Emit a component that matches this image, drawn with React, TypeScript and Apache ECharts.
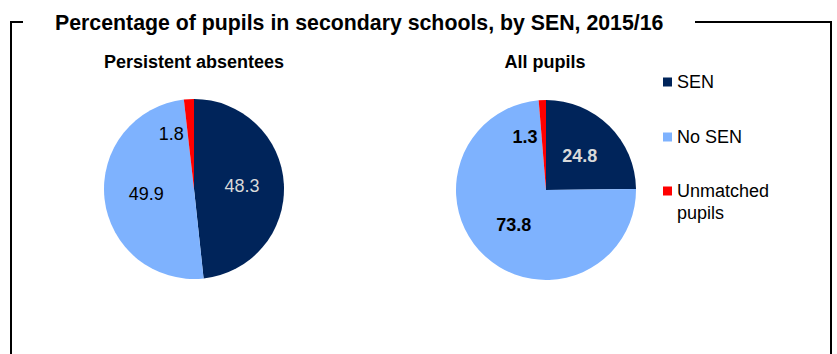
import React, { useEffect, useRef } from "react";
import * as echarts from "echarts";

const categories = ["SEN", "No SEN", "Unmatched pupils"];
const persistentAbsentees = [48.3, 49.9, 1.8];
const allPupils = [24.8, 73.8, 1.3];
const chartTitle = "Percentage of pupils in secondary schools, by SEN, 2015/16";
const pieTitles = ["Persistent absentees", "All pupils"];
const colors = ["#00245a", "#7eb2fe", "#ff0000"];

const FONT = "'Liberation Sans', Arial, sans-serif";

export default function App() {
  const ref = useRef<HTMLDivElement>(null);

  useEffect(() => {
    document.body.style.margin = "0";
    const chart = echarts.init(ref.current!, null, { renderer: "svg" });

    const makeData = (vals: number[], bold: boolean, smallOffset: number[]) =>
      vals.map((v, i) => ({
        name: categories[i],
        value: v,
        itemStyle: { color: colors[i] },
        label: {
          color: i === 0 ? "#d9d9d9" : "#000",
          fontWeight: bold ? "bold" : "normal",
          offset: i === 2 ? smallOffset : [0, 0],
        },
      }));

    const pieBase = {
      type: "pie",
      radius: 90,
      startAngle: 90,
      clockwise: true,
      avoidLabelOverlap: false,
      labelLine: { show: false },
      label: {
        show: true,
        position: "inside",
        fontSize: 18,
        fontFamily: FONT,
        formatter: (p: any) => p.value.toFixed(1),
      },
      emphasis: { disabled: true },
    };

    const textStyle = (text: string, x: number, y: number, size: number, align: string) => ({
      type: "text",
      x,
      y,
      style: {
        text,
        font: `bold ${size}px ${FONT}`,
        fill: "#000",
        align,
        verticalAlign: "middle",
        textAlign: align,
        textVerticalAlign: "middle",
      },
    });

    chart.setOption({
      animation: false,
      graphic: [
        {
          type: "polyline",
          shape: { points: [[23, 22], [11, 22], [11, 360]] },
          style: { stroke: "#000", lineWidth: 2, fill: null },
        },
        {
          type: "polyline",
          shape: { points: [[695, 22], [831, 22], [831, 360]] },
          style: { stroke: "#000", lineWidth: 2, fill: null },
        },
        textStyle(chartTitle, 55, 22.5, 21.3, "left"),
        textStyle(pieTitles[0], 194, 62, 18, "center"),
        textStyle(pieTitles[1], 545, 62, 18, "center"),
      ],
      legend: [
        {
          orient: "vertical",
          left: 663,
          top: 71,
          padding: 0,
          itemWidth: 9,
          itemHeight: 9,
          itemGap: 33,
          icon: "rect",
          selectedMode: false,
          data: [categories[0], categories[1]],
          textStyle: { fontSize: 18, lineHeight: 22, fontFamily: FONT, color: "#000" },
        },
        {
          orient: "vertical",
          left: 663,
          top: 158,
          padding: 0,
          itemWidth: 9,
          itemHeight: 9,
          icon: "rect",
          selectedMode: false,
          data: [categories[2]],
          formatter: () => " \nUnmatched\npupils",
          textStyle: { fontSize: 18, lineHeight: 22, fontFamily: FONT, color: "#000" },
        },
      ],
      series: [
        { ...pieBase, name: pieTitles[0], center: [194, 189], data: makeData(persistentAbsentees, false, [-20, -7]) },
        { ...pieBase, name: pieTitles[1], center: [546, 190], data: makeData(allPupils, true, [-19, -5]) },
      ],
    });

    return () => chart.dispose();
  }, []);

  return <div ref={ref} style={{ position: "absolute", left: 0, top: 0, width: 837, height: 354 }} />;
}
